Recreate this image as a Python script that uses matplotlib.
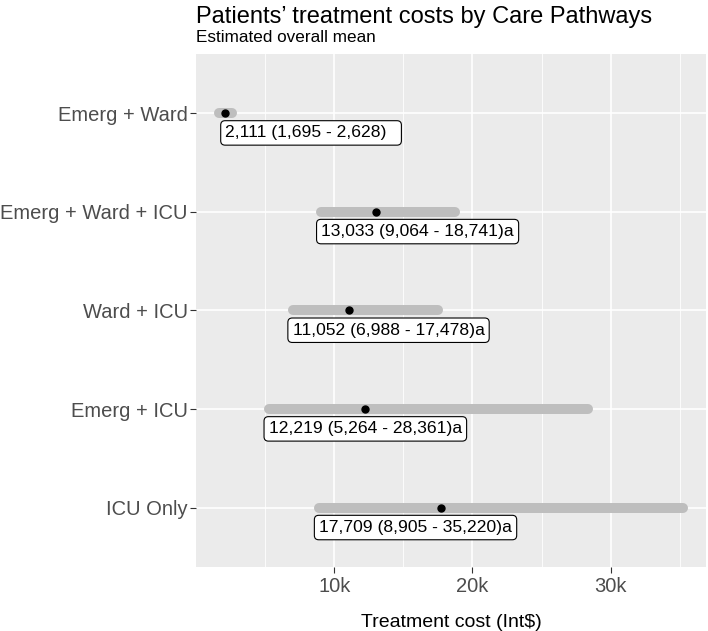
import numpy as np
import matplotlib.pyplot as plt

# care pathways, top to bottom as drawn
pathways = ['Emerg + Ward', 'Emerg + Ward + ICU', 'Ward + ICU', 'Emerg + ICU', 'ICU Only']
mean_cost = [2111, 13033, 11052, 12219, 17709]
lower_ci = [1695, 9064, 6988, 5264, 8905]
upper_ci = [2628, 18741, 17478, 28361, 35220]
suffix = ['  ', 'a', 'a', 'a', 'a']

x_ticks = [10000, 20000, 30000]
x_ticklabels = ['10k', '20k', '30k']
x_minor = [5000, 15000, 25000, 35000]

plt.rcParams['font.family'] = ['Liberation Sans', 'DejaVu Sans']

fig = plt.figure(figsize=(7.08, 6.31), dpi=100)
ax = fig.add_axes([196 / 708, 64 / 631, 510 / 708, 513 / 631])
ax.set_facecolor('#EBEBEB')
for s in ax.spines.values():
    s.set_visible(False)

n = len(pathways)
ypos = np.arange(n)[::-1] + 1  # ggplot puts first level at bottom

# grid
for xm in x_minor:
    ax.axvline(xm, color='white', lw=0.6, zorder=0)
for xt in x_ticks:
    ax.axvline(xt, color='white', lw=1.2, zorder=0)
for yp in ypos:
    ax.axhline(yp, color='white', lw=1.2, zorder=0)

# ranges and means
for y, lo, hi, m in zip(ypos, lower_ci, upper_ci, mean_cost):
    ax.plot([lo, hi], [y, y], color='#BEBEBE', lw=7.2, solid_capstyle='round', zorder=2)
    ax.plot(m, y, 'o', color='black', ms=5, zorder=3)

# labels (first one got pushed right a bit in the original)
for i, (y, lo, hi, m, sx) in enumerate(zip(ypos, lower_ci, upper_ci, mean_cost, suffix)):
    txt = '{:,} ({:,} - {:,}){}'.format(m, lo, hi, sx)
    ax.annotate(txt, (lo, y - 0.2), xytext=(6 if i == 0 else 0, 0),
                textcoords='offset pixels', ha='left', va='center',
                fontsize=12.6, color='black', zorder=4,
                bbox=dict(boxstyle='round,pad=0.27,rounding_size=0.25', fc='white',
                          ec='black', lw=0.8))

ax.set_xlim(0, 36896)
ax.set_ylim(0.4, n + 0.6)
ax.set_xticks(x_ticks)
ax.set_xticklabels(x_ticklabels)
ax.set_yticks(ypos)
ax.set_yticklabels(pathways)
ax.tick_params(axis='both', colors='#333333', length=4, width=0.8, labelsize=14.5,
               labelcolor='#4D4D4D')
ax.tick_params(axis='x', pad=3)
ax.tick_params(axis='y', pad=2)

ax.set_xlabel('Treatment cost (Int$)', fontsize=14, color='black', labelpad=13)

fig.text(196 / 708, 1 - 17 / 631, 'Patients\u2019 treatment costs by Care Pathways',
         fontsize=17, va='center', ha='left', color='black')
fig.text(196 / 708, 1 - 37 / 631, 'Estimated overall mean',
         fontsize=12.3, va='center', ha='left', color='black')

fig.savefig('out.png', dpi=100)
